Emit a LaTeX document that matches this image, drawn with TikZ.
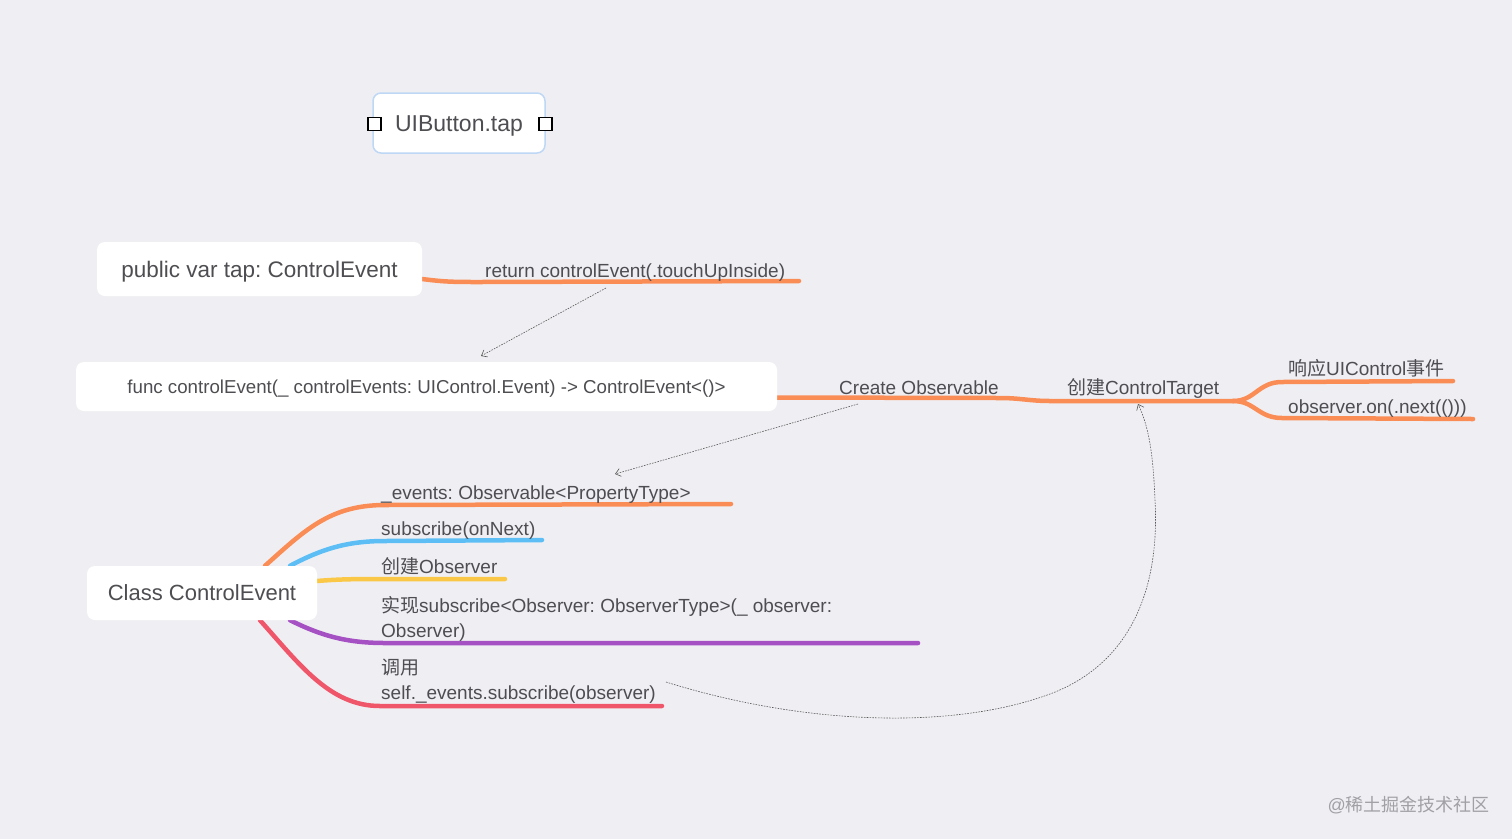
\documentclass[tikz,border=0pt]{standalone}
\usepackage{fontspec}
\setmainfont{Liberation Sans}
\newfontfamily\cjk{Noto Sans CJK SC}
\usetikzlibrary{arrows.meta}
\definecolor{bgc}{RGB}{239,239,243}
\definecolor{txt}{RGB}{78,78,82}
\definecolor{wm}{RGB}{160,160,165}
\definecolor{bor}{RGB}{250,140,85}
\definecolor{bbl}{RGB}{92,190,245}
\definecolor{byl}{RGB}{250,200,70}
\definecolor{bpu}{RGB}{165,80,195}
\definecolor{bre}{RGB}{240,86,106}
\definecolor{btnb}{RGB}{190,215,245}
\pgfdeclarelayer{back}
\pgfdeclarelayer{lines}
\pgfsetlayers{back,lines,main}
\frenchspacing
\tikzset{
  box/.style={fill=white, rounded corners=8pt, text=txt, inner sep=0pt, text height=16pt, text depth=0pt, font=\fontsize{22.5}{27}\selectfont},
  sqbox/.style={draw=black, fill=white, line width=1.8pt, minimum size=13pt, inner sep=0pt},
  branch/.style={line width=4.5pt, line cap=round},
  lbl/.style={text=txt, inner sep=0pt, anchor=base west, font=\fontsize{19}{25}\selectfont},
  lbl2/.style={text=txt, inner sep=0pt, anchor=west, align=left, font=\fontsize{19}{25}\selectfont},
  dep/.style={draw=black!65, line width=0.6pt, dash pattern=on 1.6pt off 1.2pt, -{Straight Barb[length=5pt,width=8pt]}}
}
\begin{document}
\begin{tikzpicture}[x=1pt,y=-1pt]
\begin{pgfonlayer}{back}
\fill[bgc] (0,0) rectangle (1512,839);
\end{pgfonlayer}
\useasboundingbox (0,0) rectangle (1512,839);

% boxes
\node[box, draw=btnb, line width=1.5pt, minimum width=172pt, minimum height=60pt, font=\fontsize{23}{27}\selectfont] (btn) at (459,123) {UIButton.tap};
\node[sqbox] (sqL) at ([xshift=2pt,yshift=-1pt]btn.west) {};
\node[sqbox] (sqR) at ([yshift=-1pt]btn.east) {};

\node[box, minimum width=325pt, minimum height=54pt] (tap) at (259.5,269) {public var tap: ControlEvent};
\node[box, minimum width=701pt, minimum height=49pt, text height=13.4pt, font=\fontsize{18.7}{23}\selectfont] (fn) at (426.5,386.5) {func controlEvent(\_ controlEvents: UIControl.Event) -> ControlEvent<()>};
\node[box, minimum width=230pt, minimum height=54pt, text height=15.8pt, font=\fontsize{22}{27}\selectfont] (cls) at (202,593) {Class ControlEvent};

% labels
\node[lbl] (ret) at (485,277) {return controlEvent(.touchUpInside)};
\node[lbl] (co) at (839,394) {Create Observable};
\node[lbl] (ctl) at (1067,394) {{\cjk 创建}ControlTarget};
\node[lbl] (resp) at (1288,375) {{\cjk 响应}UIControl{\cjk 事件}};
\node[lbl] (onn) at (1288,413) {observer.on(.next(()))};
\node[lbl] (ev) at (381,499) {\_events: Observable<PropertyType>};
\node[lbl] (sub) at (381,535) {subscribe(onNext)};
\node[lbl] (cob) at (381,573) {{\cjk 创建}Observer};
\node[lbl2] (impl) at (381,619) {{\cjk 实现}subscribe<Observer: ObserverType>(\_ observer:\\Observer)};
\node[lbl2] (call) at (381,681) {{\cjk 调用}\\self.\_events.subscribe(observer)};
\node[text=wm, inner sep=0pt, anchor=east, font=\fontsize{18}{22}\selectfont] (wmk) at (1490,805) {@{\cjk 稀土掘金技术社区}};

% line end coordinates
\coordinate (tapE) at (799,281);
\coordinate (ctJ) at (1233,401);
\coordinate (respE) at (1453,381);
\coordinate (onnE) at (1473,419);
\coordinate (evE) at (731,504);
\coordinate (subE) at (542,540);
\coordinate (cobE) at (505,579);
\coordinate (implE) at (918,643);
\coordinate (callE) at (662,706);

\begin{pgfonlayer}{lines}
\draw[branch, bor] ([yshift=-10pt]tap.east) .. controls (445,282) and (455,282) .. (480,282) -- (tapE);
\draw[branch, bor] ([yshift=-11pt]fn.east) -- (1000,398) .. controls (1020,398) and (1030,401) .. (1050,401) -- (ctJ);
\draw[branch, bor] (ctJ) .. controls (1255,401) and (1258,382) .. (1282,382) -- (respE);
\draw[branch, bor] (ctJ) .. controls (1255,401) and (1258,418) .. (1282,418) -- (onnE);

\draw[branch, bor] ([xshift=63pt]cls.north) .. controls (305,530) and (330,505) .. (385,505) -- (evE);
\draw[branch, bbl] ([xshift=88pt]cls.north) .. controls (320,550) and (345,541) .. (385,541) -- (subE);
\draw[branch, byl] ([yshift=12pt]cls.east) .. controls (340,579) and (360,579) .. (385,579) -- (cobE);
\draw[branch, bpu] ([xshift=88pt]cls.south) .. controls (320,635) and (345,643) .. (385,643) -- (implE);
\draw[branch, bre] ([xshift=58pt]cls.south) .. controls (300,665) and (330,706) .. (380,706) -- (callE);
\end{pgfonlayer}

% dashed dependency arrows
\coordinate (a1s) at (606,288);
\coordinate (a1e) at (481,356);
\coordinate (a2s) at (858,404);
\coordinate (a2e) at (615,474);
\coordinate (a3s) at (666,682);
\coordinate (a3e) at (1138,404);
\draw[dep] (a1s) -- (a1e);
\draw[dep] (a2s) -- (a2e);
\draw[dep] (a3s) .. controls (800,724) and (950,731) .. (1050,694) .. controls (1130,664) and (1160,590) .. (1155,500) .. controls (1153,450) and (1148,425) .. (a3e);
\end{tikzpicture}
\end{document}
